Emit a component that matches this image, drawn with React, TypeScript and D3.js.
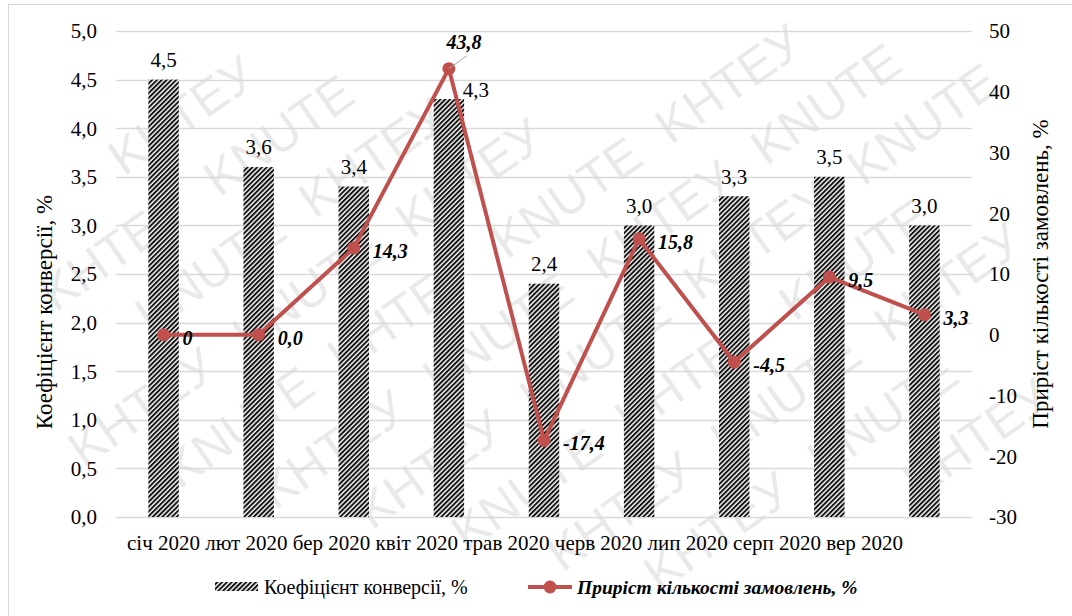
import React from "react";
import * as d3 from "d3";

const categories = ["січ 2020", "лют 2020", "бер 2020", "квіт 2020", "трав 2020", "черв 2020", "лип 2020", "серп 2020", "вер 2020"];
const conversion = [4.5, 3.6, 3.4, 4.3, 2.4, 3.0, 3.3, 3.5, 3.0];
const growth = [0, 0, 14.3, 43.8, -17.4, 15.8, -4.5, 9.5, 3.3];
const growthLabels = ["0", "0,0", "14,3", "43,8", "-17,4", "15,8", "-4,5", "9,5", "3,3"];
const leftTicks = [0, 0.5, 1, 1.5, 2, 2.5, 3, 3.5, 4, 4.5, 5];
const rightTicks = [-30, -20, -10, 0, 10, 20, 30, 40, 50];
const leftTitle = "Коефіцієнт конверсії, %";
const rightTitle = "Приріст кількості замовлень, %";
const watermarkWords = ["KNUTE", "KHTEУ"];

const W = 1072, H = 616;
const L = 116, R = 972, T = 31, B = 517;
const FONT = '"Liberation Serif", "Times New Roman", "DejaVu Serif", serif';
const SANS = '"Liberation Sans", Arial, sans-serif';
const RED = "#c0504d";

const fmt1 = (v: number) => v.toFixed(1).replace(".", ",");

export default function App() {
  const x = d3.scaleBand<string>().domain(categories).range([L, R]).padding(0);
  const bw = x.bandwidth();
  const barW = bw * 0.32;
  const yL = d3.scaleLinear().domain([0, 5]).range([B, T]);
  const yR = d3.scaleLinear().domain([-30, 50]).range([B, T]);
  const cx = (c: string) => (x(c) as number) + bw / 2;

  const line = d3
    .line<number>()
    .x((_, i) => cx(categories[i]))
    .y((d) => yR(d));

  // watermark words laid on a rotated grid, only those fully inside the canvas
  const ang = (-35 * Math.PI) / 180;
  const ca = Math.cos(ang), sa = Math.sin(ang);
  const wordW = 172, stepU = 200, stepV = 72;
  const wm: { X: number; Y: number; t: string; k: string }[] = [];
  for (let j = -14; j < 16; j++) {
    for (let i = -8; i < 12; i++) {
      const u = i * stepU + (((j % 3) + 3) % 3) * 66;
      const v = j * stepV;
      const corners = [
        [u, v + 11],
        [u + wordW, v + 11],
        [u, v - 46],
        [u + wordW, v - 46],
      ].map(([a, b]) => [a * ca - b * sa, a * sa + b * ca]);
      const ok = corners.every(([px, py]) => px >= 2 && px <= W - 2 && py >= 2 && py <= H - 2);
      if (ok) {
        const X = u * ca - v * sa;
        const Y = u * sa + v * ca;
        wm.push({ X, Y, t: watermarkWords[(((i + j) % 2) + 2) % 2], k: `${i}_${j}` });
      }
    }
  }

  return (
    <svg width={W} height={H} style={{ position: "absolute", left: 0, top: 0, background: "#fff", fontFamily: FONT }}>
      <defs>
        <pattern id="hatch" patternUnits="userSpaceOnUse" width={3.4} height={3.4} patternTransform="rotate(45)">
          <rect x={0} y={0} width={3.4} height={3.4} fill="#f2f2f2" />
          <rect x={0} y={0} width={1.9} height={3.4} fill="#111" />
        </pattern>
      </defs>
      <rect x={0} y={0} width={W} height={H} fill="#fff" />
      {/* watermark */}
      <g fill="#000" fillOpacity={0.085} style={{ fontFamily: SANS }} fontSize={50}>
        {wm.map((w) => (
          <text key={w.k} transform={`translate(${w.X},${w.Y}) rotate(-35)`} x={0} y={0}>
            {w.t}
          </text>
        ))}
      </g>
      <rect x={8.5} y={4.5} width={1100} height={700} fill="none" stroke="#d9d9d9" strokeWidth={1} />
      <g style={{ fontFamily: FONT }}>
        {/* gridlines */}
        {leftTicks.map((t) => (
          <line key={t} x1={L} x2={R} y1={Math.round(yL(t)) + 0.5} y2={Math.round(yL(t)) + 0.5} stroke="#d9d9d9" strokeWidth={1.3} />
        ))}
        {/* left ticks */}
        {leftTicks.map((t) => (
          <text key={"l" + t} x={97} y={yL(t)} dy="0.35em" textAnchor="end" fontSize={21} fill="#000">
            {fmt1(t)}
          </text>
        ))}
        {rightTicks.map((t) => (
          <text key={"r" + t} x={989} y={yR(t)} dy="0.35em" textAnchor="start" fontSize={21} fill="#000">
            {t}
          </text>
        ))}
        {/* bars */}
        {conversion.map((v, i) => (
          <rect key={i} x={cx(categories[i]) - barW / 2} y={yL(v)} width={barW} height={yL(0) - yL(v)} fill="url(#hatch)" />
        ))}
        {/* bar labels */}
        {conversion.map((v, i) => {
          const special = i === 3;
          return (
            <text
              key={"bl" + i}
              x={cx(categories[i]) + (special ? 27 : 0)}
              y={yL(v) - (special ? 9 : 20)}
              dy="0.35em"
              textAnchor="middle"
              fontSize={21}
              fill="#000"
            >
              {fmt1(v)}
            </text>
          );
        })}
        {/* line */}
        <path d={line(growth) || ""} fill="none" stroke={RED} strokeWidth={4} strokeLinejoin="round" />
        {growth.map((v, i) => (
          <circle key={"c" + i} cx={cx(categories[i])} cy={yR(v)} r={6.5} fill={RED} />
        ))}
        {/* line labels */}
        {growth.map((v, i) => {
          if (i === 3) {
            const px = cx(categories[i]);
            const py = yR(v);
            return (
              <g key={"gl" + i}>
                <line x1={px} y1={py} x2={px + 18} y2={py - 13} stroke="#a6a6a6" strokeWidth={1} />
                <text x={px + 15} y={py - 27} dy="0.35em" textAnchor="middle" fontSize={20} fontWeight="bold" fontStyle="italic" fill="#000">
                  {growthLabels[i]}
                </text>
              </g>
            );
          }
          return (
            <text
              key={"gl" + i}
              x={cx(categories[i]) + 19}
              y={yR(v) + 3}
              dy="0.35em"
              textAnchor="start"
              fontSize={20}
              fontWeight="bold"
              fontStyle="italic"
              fill="#000"
            >
              {growthLabels[i]}
            </text>
          );
        })}
        {/* x labels as one running line */}
        <text x={127} y={543} dy="0.35em" fontSize={21} fill="#000">
          {categories.join(" ")}
        </text>
        {/* axis titles */}
        <text transform={`translate(44,312) rotate(-90)`} textAnchor="middle" dy="0.35em" fontSize={23} fill="#000">
          {leftTitle}
        </text>
        <text transform={`translate(1040,274) rotate(-90)`} textAnchor="middle" dy="0.35em" fontSize={23} fill="#000">
          {rightTitle}
        </text>
        {/* legend */}
        <rect x={215} y={582} width={43} height={9} fill="url(#hatch)" />
        <text x={264} y={587} dy="0.35em" fontSize={20} fill="#000">
          {leftTitle}
        </text>
        <line x1={528} x2={572} y1={587} y2={587} stroke={RED} strokeWidth={4} />
        <circle cx={550} cy={587} r={6.5} fill={RED} />
        <text x={577} y={587} dy="0.35em" fontSize={19.5} fontWeight="bold" fontStyle="italic" fill="#000">
          {rightTitle}
        </text>
      </g>
    </svg>
  );
}
